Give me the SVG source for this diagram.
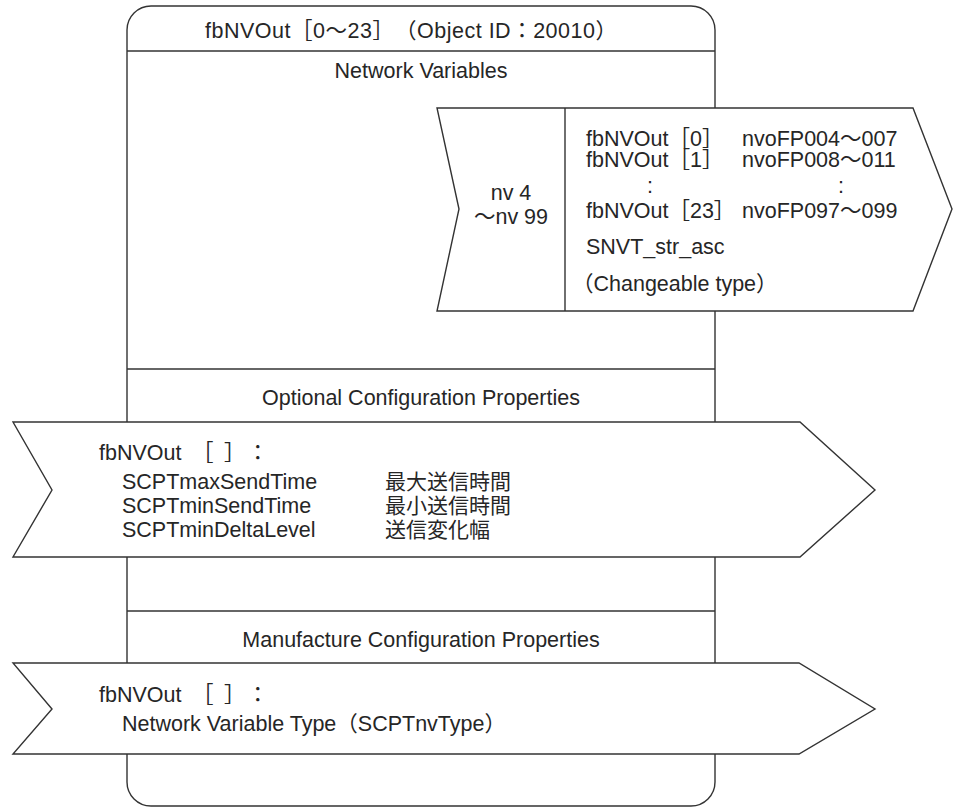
<svg xmlns="http://www.w3.org/2000/svg" width="959" height="811" viewBox="0 0 959 811">
  <style>
    .ln { fill: none; stroke: #333; stroke-width: 1.4; }
    .shape { fill: #fff; stroke: #333; stroke-width: 1.4; stroke-linejoin: miter; }
    .t { font-family: "Liberation Sans", "Noto Sans CJK JP", sans-serif; font-size: 21.5px; fill: #262626; }
    .jp { font-family: "Noto Sans CJK JP", sans-serif; font-size: 21px; fill: #262626; }
    .c { text-anchor: middle; }
  </style>
  <rect width="959" height="811" fill="#fff"/>

  <!-- function block frame with its section dividers -->
  <g id="fbNVOut-block">
    <rect class="ln" x="127" y="6" width="588" height="800" rx="24" ry="24"/>
    <line class="ln" x1="127" y1="51" x2="715" y2="51"/>
    <line class="ln" x1="127" y1="369" x2="715" y2="369"/>
    <line class="ln" x1="127" y1="611" x2="715" y2="611"/>
    <text class="t" x="205" y="38" textLength="412" lengthAdjust="spacing">fbNVOut［0～23］　（Object ID：20010）</text>
    <text class="t c" x="421" y="78">Network Variables</text>
    <text class="t c" x="421" y="405">Optional Configuration Properties</text>
    <text class="t c" x="421" y="647">Manufacture Configuration Properties</text>
  </g>

  <!-- network variable output arrow -->
  <g id="nv-arrow">
    <polygon class="shape" points="437,108 913,108 952,209 913,311 437,311 459,209"/>
    <line class="ln" x1="565" y1="108" x2="565" y2="311"/>
    <text class="t c" x="511" y="200">nv 4</text>
    <text class="t c" x="511" y="224">～nv 99</text>
    <text class="t" x="586" y="146">fbNVOut［0］</text>
    <text class="t" x="742" y="146">nvoFP004～007</text>
    <text class="t" x="586" y="167">fbNVOut［1］</text>
    <text class="t" x="742" y="167">nvoFP008～011</text>
    <text class="t" x="647" y="193">:</text>
    <text class="t" x="838" y="193">:</text>
    <text class="t" x="586" y="218">fbNVOut［23］</text>
    <text class="t" x="742" y="218">nvoFP097～099</text>
    <text class="t" x="586" y="254">SNVT_str_asc</text>
    <text class="t" x="572" y="291">（Changeable type）</text>
  </g>

  <!-- optional configuration properties arrow -->
  <g id="opt-cp-arrow">
    <polygon class="shape" points="13,422 800,422 875,490 800,557 13,557 52,490"/>
    <text class="t" x="99" y="460">fbNVOut<tspan x="192">［</tspan><tspan x="224">］</tspan><tspan x="247">：</tspan></text>
    <text class="t" x="122" y="489">SCPTmaxSendTime</text>
    <text class="jp" x="385" y="489">最大送信時間</text>
    <text class="t" x="122" y="513">SCPTminSendTime</text>
    <text class="jp" x="385" y="513">最小送信時間</text>
    <text class="t" x="122" y="537">SCPTminDeltaLevel</text>
    <text class="jp" x="385" y="537">送信変化幅</text>
  </g>

  <!-- manufacture configuration properties arrow -->
  <g id="mfg-cp-arrow">
    <polygon class="shape" points="13,663 799,663 875,709 799,754 13,754 52,709"/>
    <text class="t" x="99" y="702">fbNVOut<tspan x="192">［</tspan><tspan x="224">］</tspan><tspan x="247">：</tspan></text>
    <text class="t" x="122" y="731">Network Variable Type（SCPTnvType）</text>
  </g>

  <g id="connectors"/>
</svg>
